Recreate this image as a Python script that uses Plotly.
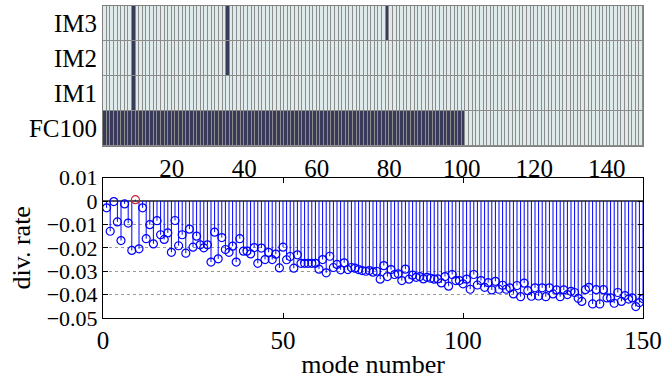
import plotly.graph_objects as go
from plotly.subplots import make_subplots

# ---- data ----
modes = list(range(1, 151))
div_rate = [
    -0.0029, -0.0129, -0.0002, -0.0089, -0.0169, -0.0012, -0.0094, -0.0211, 0.0006, -0.0204,
    -0.0029, -0.0161, -0.0101, -0.0183, -0.0084, -0.0144, -0.0164, -0.0136, -0.0219, -0.0083,
    -0.0191, -0.0144, -0.0223, -0.0120, -0.0197, -0.0150, -0.0187, -0.0200, -0.0187, -0.0261,
    -0.0133, -0.0247, -0.0156, -0.0207, -0.0219, -0.0193, -0.0261, -0.0161, -0.0214, -0.0214,
    -0.0226, -0.0199, -0.0266, -0.0201, -0.0250, -0.0219, -0.0250, -0.0227, -0.0286, -0.0197,
    -0.0251, -0.0237, -0.0287, -0.0230, -0.0266, -0.0266, -0.0266, -0.0266, -0.0266, -0.0291,
    -0.0250, -0.0307, -0.0236, -0.0284, -0.0271, -0.0294, -0.0264, -0.0293, -0.0284, -0.0287,
    -0.0293, -0.0297, -0.0300, -0.0297, -0.0304, -0.0300, -0.0334, -0.0276, -0.0323, -0.0293,
    -0.0314, -0.0311, -0.0340, -0.0291, -0.0334, -0.0317, -0.0326, -0.0323, -0.0333, -0.0326,
    -0.0330, -0.0334, -0.0333, -0.0350, -0.0323, -0.0364, -0.0314, -0.0340, -0.0340, -0.0354,
    -0.0334, -0.0377, -0.0314, -0.0359, -0.0340, -0.0369, -0.0349, -0.0380, -0.0343, -0.0377,
    -0.0360, -0.0377, -0.0371, -0.0397, -0.0361, -0.0409, -0.0351, -0.0383, -0.0407, -0.0371,
    -0.0406, -0.0371, -0.0409, -0.0371, -0.0397, -0.0380, -0.0409, -0.0380, -0.0400, -0.0386,
    -0.0391, -0.0416, -0.0429, -0.0379, -0.0369, -0.0440, -0.0379, -0.0440, -0.0379, -0.0414,
    -0.0414, -0.0437, -0.0391, -0.0429, -0.0404, -0.0419, -0.0414, -0.0451, -0.0434, -0.0417,
]
highlight_mode = 9

row_labels = ["FC100", "IM1", "IM2", "IM3"]
fc100_modes = list(range(1, 101))
im1_modes = [9]
im2_modes = [9, 35]
im3_modes = [9, 35, 79]
row_modes = [fc100_modes, im1_modes, im2_modes, im3_modes]
cell_modes = list(range(1, 150))  # pcolor-style cells [m, m+1]

x_ticks_top = [20, 40, 60, 80, 100, 120, 140]
x_ticks_bot = [0, 50, 100, 150]
y_ticks_bot = [0.01, 0, -0.01, -0.02, -0.03, -0.04, -0.05]
y_ticktext_bot = ["0.01", "0", "\u22120.01", "\u22120.02", "\u22120.03", "\u22120.04", "\u22120.05"]

# ---- figure ----
FONT = "Liberation Serif"
FS = 25
FY = 22
FT = 26

fig = make_subplots(rows=2, cols=1, vertical_spacing=0.0)

z = [[1 if m in sel else 0 for m in cell_modes] for sel in row_modes]
fig.add_trace(go.Heatmap(
    x=[m + 0.5 for m in cell_modes], y=list(range(len(row_labels))), z=z,
    colorscale=[[0, "#dfebeb"], [1, "#3a3a5a"]], zmin=0, zmax=1,
    showscale=False, xgap=1, ygap=1, hoverinfo="skip"), row=1, col=1)

# stems
sx, sy = [], []
for m, v in zip(modes, div_rate):
    sx += [m, m, None]
    sy += [0, v, None]
fig.add_trace(go.Scatter(x=sx, y=sy, mode="lines", line=dict(color="#0000ff", width=1),
                         hoverinfo="skip", showlegend=False), row=2, col=1)
cols = ["#d0203a" if m == highlight_mode else "#0000ff" for m in modes]
fig.add_trace(go.Scatter(x=modes, y=div_rate, mode="markers",
                         marker=dict(symbol="circle-open", size=8, color=cols, line=dict(width=1.2)),
                         showlegend=False), row=2, col=1)

fig.add_shape(type="rect", xref="x domain", yref="y domain", x0=0, x1=1, y0=0, y1=1,
              fillcolor="#8c8c8c", line=dict(width=0), layer="below")

fig.update_layout(
    width=665, height=379,
    margin=dict(l=102.5, r=22, t=6, b=61),
    plot_bgcolor="white", paper_bgcolor="white",
    font=dict(family=FONT, size=FS, color="black"),
    showlegend=False,
    xaxis=dict(domain=[0, 1], range=[1, 150], tickvals=x_ticks_top, ticks="", showgrid=False,
               zeroline=False, showline=True, linecolor="#808080", mirror=True, automargin=False,
               anchor="y", tickfont=dict(size=FS)),
    yaxis=dict(domain=[0.5513, 1], range=[-0.5, 3.5], tickvals=list(range(len(row_labels))),
               ticktext=row_labels, ticks="", showgrid=False, zeroline=False, automargin=False,
               showline=True, linecolor="#808080", mirror=True, anchor="x", tickfont=dict(size=FS)),
    xaxis2=dict(domain=[0, 1], range=[0, 150], tickvals=x_ticks_bot, ticks="inside", ticklen=5,
                tickcolor="black", showgrid=False, zeroline=False, showline=True, linecolor="black",
                linewidth=1, mirror="ticks", anchor="y2", automargin=False,
                title=dict(text="mode number", standoff=0, font=dict(size=FT))),
    yaxis2=dict(domain=[0, 0.4497], range=[-0.05, 0.01], tickvals=y_ticks_bot, ticktext=y_ticktext_bot,
                ticks="inside", ticklen=5, tickcolor="black", showgrid=True, gridcolor="#999999",
                griddash="dot", gridwidth=1, zeroline=True, zerolinecolor="#555555", zerolinewidth=2,
                showline=True, linecolor="black", linewidth=1, mirror="ticks", anchor="x2",
                automargin=False, tickfont=dict(size=FY),
                title=dict(text="div. rate", standoff=8, font=dict(size=FT))),
)

fig.write_html("out.html")
